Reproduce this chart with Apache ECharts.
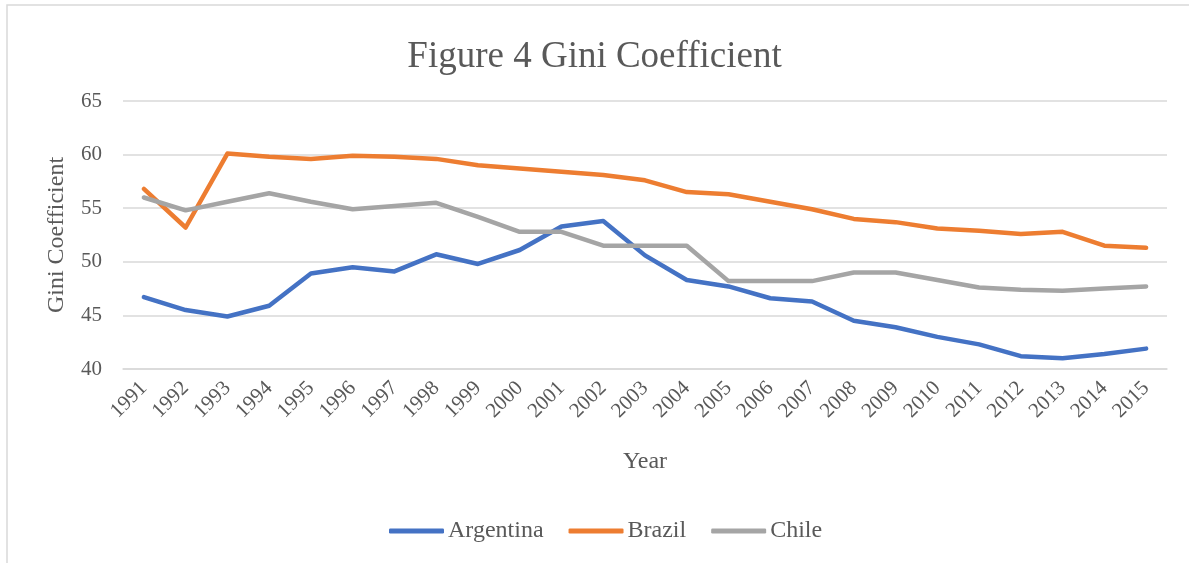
<!DOCTYPE html>
<html lang="en">
<head>
    <meta charset="UTF-8">
    <title>Figure 4 Gini Coefficient</title>
    <script src="https://cdn.jsdelivr.net/npm/echarts@6.0.0/dist/echarts.min.js"></script>
    <style>
        html, body { margin: 0; padding: 0; background: #fff; }
    </style>
</head>
<body>
    <div id="main" style="width: 1189px;height:563px;"></div>
    <script type="text/javascript">
        var years = ['1991', '1992', '1993', '1994', '1995', '1996', '1997', '1998', '1999', '2000',
            '2001', '2002', '2003', '2004', '2005', '2006', '2007', '2008', '2009', '2010',
            '2011', '2012', '2013', '2014', '2015'];
        var argentina = [46.7, 45.5, 44.9, 45.9, 48.9, 49.5, 49.1, 50.7, 49.8, 51.1,
            53.3, 53.8, 50.6, 48.3, 47.7, 46.6, 46.3, 44.5, 43.9, 43.0,
            42.3, 41.2, 41.0, 41.4, 41.9];
        var brazil = [56.8, 53.2, 60.1, 59.8, 59.6, 59.9, 59.8, 59.6, 59.0, 58.7,
            58.4, 58.1, 57.6, 56.5, 56.3, 55.6, 54.9, 54.0, 53.7, 53.1,
            52.9, 52.6, 52.8, 51.5, 51.3];
        var chile = [56.0, 54.8, 55.6, 56.4, 55.6, 54.9, 55.2, 55.5, 54.2, 52.8,
            52.8, 51.5, 51.5, 51.5, 48.2, 48.2, 48.2, 49.0, 49.0, 48.3,
            47.6, 47.4, 47.3, 47.5, 47.7];
        var yTicks = [40, 45, 50, 55, 60, 65];

        var textColor = '#595959';
        var font = '"Liberation Serif", "Times New Roman", serif';

        var myChart = echarts.init(document.getElementById('main'));

        function lineSeries(name, data, color) {
            return {
                name: name,
                type: 'line',
                data: data,
                showSymbol: false,
                symbol: 'none',
                lineStyle: { color: color, width: 4.5, cap: 'round', join: 'round' },
                itemStyle: { color: color },
                animation: false
            };
        }

        var option = {
            backgroundColor: '#fff',
            textStyle: { fontFamily: font, color: textColor },
            graphic: [
                {
                    type: 'rect',
                    shape: { x: 7, y: 5, width: 1200, height: 600 },
                    style: { fill: 'none', stroke: '#d9d9d9', lineWidth: 1.5 },
                    silent: true
                }
            ],
            title: {
                text: 'Figure 4 Gini Coefficient',
                left: 'center',
                top: 34,
                textStyle: { fontFamily: font, fontSize: 37, fontWeight: 'normal', color: textColor }
            },
            legend: {
                bottom: 15,
                left: 384,
                itemWidth: 55,
                itemHeight: 5,
                itemGap: 25,
                icon: 'roundRect',
                textStyle: { fontFamily: font, fontSize: 24, color: textColor, padding: [0, 0, 0, -1] },
                data: ['Argentina', 'Brazil', 'Chile']
            },
            grid: { left: 123, right: 22, top: 101, bottom: 194, containLabel: false },
            xAxis: {
                type: 'category',
                data: years,
                boundaryGap: true,
                name: 'Year',
                nameLocation: 'middle',
                nameGap: 81,
                nameTextStyle: { fontFamily: font, fontSize: 24, color: textColor },
                axisLine: { show: true, lineStyle: { color: '#d9d9d9', width: 1.5 } },
                axisTick: { show: false },
                axisLabel: { rotate: 45, fontFamily: font, fontSize: 21, color: textColor, margin: 16 }
            },
            yAxis: {
                type: 'value',
                min: yTicks[0],
                max: yTicks[yTicks.length - 1],
                interval: 5,
                name: 'Gini Coefficient',
                nameLocation: 'middle',
                nameGap: 54,
                nameTextStyle: { fontFamily: font, fontSize: 24, color: textColor },
                axisLine: { show: false },
                axisTick: { show: false },
                axisLabel: { fontFamily: font, fontSize: 21, color: textColor, margin: 21 },
                splitLine: { lineStyle: { color: '#d9d9d9', width: 1.5 } }
            },
            series: [
                lineSeries('Argentina', argentina, '#4472C4'),
                lineSeries('Brazil', brazil, '#ED7D31'),
                lineSeries('Chile', chile, '#A5A5A5')
            ]
        };
        myChart.setOption(option);
    </script>
</body>
</html>
